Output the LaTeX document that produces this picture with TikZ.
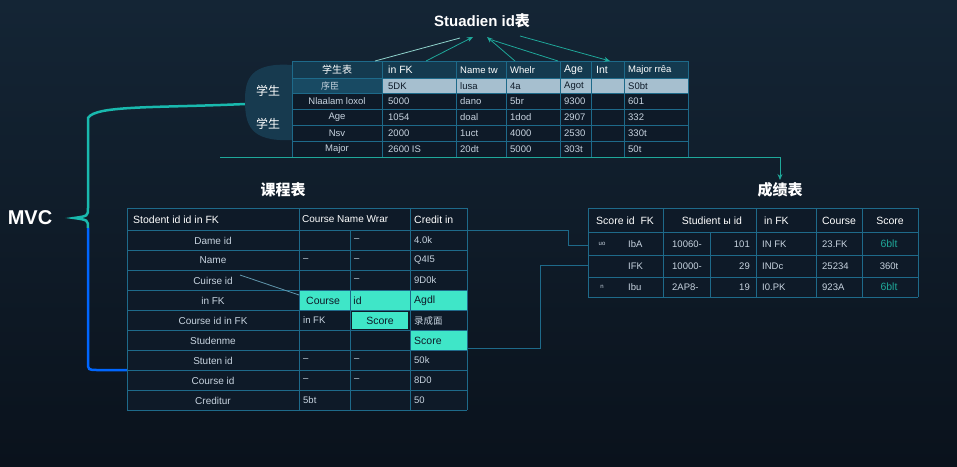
\documentclass[tikz,border=0pt]{standalone}
\usepackage{fontspec}
\setmainfont{Liberation Sans}
\newfontfamily\cjk{Noto Sans CJK SC}
\usetikzlibrary{arrows.meta}
\definecolor{bgA}{HTML}{0A121C}
\definecolor{bgB}{HTML}{142535}
\definecolor{grid}{HTML}{1E6A8A}
\definecolor{cell}{HTML}{0E1A28}
\definecolor{hl}{HTML}{3FE6C8}
\definecolor{txt}{HTML}{C8D4E0}
\definecolor{teal}{HTML}{1FA89A}
\begin{document}
\begin{tikzpicture}[x=1pt,y=-1pt,
  t/.style={text=txt,font=\fontsize{9.5}{10}\selectfont,inner sep=0pt},
  th/.style={text=white,font=\fontsize{10.5}{11}\selectfont,inner sep=0pt},
  hd/.style={text=white,font=\cjk\bfseries\fontsize{15}{17}\selectfont},
  gl/.style={draw=grid,line width=0.8pt},
  conn/.style={draw=teal,line width=0.8pt},
  arr/.style={conn,-{Stealth[length=6pt,width=5pt]}}]
\shade[top color=bgB,bottom color=bgA] (0,0) rectangle (957,466);
\useasboundingbox (0,0) rectangle (957,466);
% ---------- MVC bracket
\node[text=white,font=\bfseries\fontsize{20}{22}\selectfont] (mvc) at (30,218) {MVC};
\draw[line width=2.5pt,draw=teal!80!cyan] (245,104) .. controls (160,108) and (95,105) .. (88,118) -- (88,208) .. controls (88,216) .. (74,218) .. controls (88,220) .. (88,228);
\draw[line width=2.5pt,draw=blue!60!cyan] (88,228) -- (88,362) .. controls (88,370) .. (98,370) -- (128,370);
% ---------- Top table
\fill[bgB!70!grid] (292,65) .. controls (250,62) and (245,80) .. (245,100) .. controls (245,125) and (250,142) .. (292,140) -- cycle;
\node[text=white,font=\cjk\fontsize{12}{13}\selectfont] (s1) at (268,91) {学生};
\node[text=white,font=\cjk\fontsize{12}{13}\selectfont] (s2) at (268,124) {学生};
\fill[cell] (292,61) rectangle (688,157);
\fill[cell!60!grid] (292,61) rectangle (688,78);
\fill[txt!80!grid] (382,78) rectangle (688,93);
\fill[grid!60!cell] (292,78) rectangle (382,93);
\foreach \x in {292,382,456,506,560,591,624,688} \draw[gl] (\x,61) -- (\x,157);
\foreach \y in {61,78,93,109,125,141,157} \draw[gl] (292,\y) -- (688,\y);
\node[th,font=\cjk\fontsize{10}{10}\selectfont] at (337,69.5) {学生表};
\node[th,anchor=west] at (388,70) {in FK};
\node[th,anchor=west,font=\fontsize{9.5}{10}\selectfont] at (460,70) {Name tw};
\node[th,anchor=west,font=\fontsize{9.5}{10}\selectfont] at (510,70) {Whelr};
\node[th,anchor=west] at (564,70) {Age};
\node[th,anchor=west] at (596,70) {Int};
\node[th,anchor=west,font=\fontsize{9.5}{10}\selectfont] at (628,70) {Major rrêa};
\node[t,font=\cjk\fontsize{9}{9}\selectfont] at (330,86) {序臣};
\node[t,anchor=west,text=cell] at (388,86) {5DK};
\node[t,anchor=west,text=cell] at (460,86) {lusa};
\node[t,anchor=west,text=cell] at (510,86) {4a};
\node[t,anchor=west,text=cell] at (564,86) {Agot};
\node[t,anchor=west,text=cell] at (628,86) {S0bt};
\foreach \y/\a/\b/\c/\d/\e/\f in {101.5/Nlaalam loxol/5000/dano/5br/9300/601,117.5/Age/1054/doal/1dod/2907/332,133.5/Nsv/2000/1uct/4000/2530/330t,149.5/Major/2600 IS/20dt/5000/303t/50t}{
  \node[t] at (337,\y) {\a};
  \node[t,anchor=west] at (388,\y) {\b};
  \node[t,anchor=west] at (460,\y) {\c};
  \node[t,anchor=west] at (510,\y) {\d};
  \node[t,anchor=west] at (564,\y) {\e};
  \node[t,anchor=west] at (628,\y) {\f};}
% title + arrows
\node[text=white,font=\bfseries\fontsize{15}{17}\selectfont] (ttl) at (482,21) {Stuadien id{\cjk 表}};
\coordinate (h1) at (426,61);\coordinate (h2) at (515,61);\coordinate (h3) at (610,61);
\draw[conn,draw=teal!50] (375,61) -- (460,38);
\draw[arr] (h1) -- (473,37);
\draw[arr] (h2) -- (487,37);
\draw[conn] (558,61) -- (492,40);
\draw[arr] (520,36) -- (h3);
% long line to right table
\draw[conn] (220,157) -- (780,157);
\draw[arr] (780,157) -- (780,180);
% ---------- Left table
\node[hd] (kc) at (283,190) {课程表};
\fill[cell] (127,208) rectangle (467,410);
\fill[hl] (299,290) rectangle (410,310);
\fill[hl] (410,290) rectangle (467,310);
\fill[hl] (352,312) rectangle (408,329);
\fill[hl] (410,330) rectangle (467,350);
\foreach \x in {127,299,410,467} \draw[gl] (\x,208) -- (\x,410);
\draw[gl] (350,230) -- (350,410);
\foreach \y in {208,230,250,270,290,310,330,350,370,390,410} \draw[gl] (127,\y) -- (467,\y);
\node[th,anchor=west] at (133,219.5) {Stodent id id in FK};
\node[th,anchor=west,font=\fontsize{10}{10}\selectfont] at (302,219.5) {Course Name Wrar};
\node[th,anchor=west] at (414,219.5) {Credit in};
\foreach \y/\a/\b/\c/\d in {240/Dame id//--/4.0k,260/Name/--/--/Q4I5,280/Cuirse id//--/9D0k,300/in FK///,320/Course id in FK/in FK//{\cjk 录成面},340/Studenme///,360/Stuten id/--/--/50k,380/Course id/--/--/8D0,400/Creditur/5bt//50}{
  \node[t,font=\fontsize{10}{10}\selectfont] at (213,\y+0.5) {\a};
  \node[t,anchor=west] at (303,\y+0.5) {\b};
  \node[t,anchor=west] at (354,\y+0.5) {\c};
  \node[t,anchor=west] at (414,\y+0.5) {\d};}
\node[th,text=cell,anchor=west] at (306,300.5) {Course \quad id};
\node[th,text=cell,anchor=west] at (414,300.5) {Agdl};
\node[th,text=cell] at (380,320.5) {Score};
\node[th,text=cell,anchor=west] at (414,340.5) {Score};
\draw[conn,draw=grid!70] (240,275) -- (299,295);
% ---------- Right table
\node[hd] (cj) at (780,190) {成绩表};
\fill[cell] (588,208) rectangle (918,297);
\foreach \x in {588,663,756,816,862,918} \draw[gl] (\x,208) -- (\x,297);
\draw[gl] (710,232) -- (710,297);
\foreach \y in {208,232,255,277,297} \draw[gl] (588,\y) -- (918,\y);
\node[th,anchor=west] at (596,220.5) {Score id\ \ FK};
\node[th] at (712,220.5) {Studient ы id};
\node[th,anchor=west] at (764,220.5) {in FK};
\node[th] at (839,220.5) {Course};
\node[th] at (890,220.5) {Score};
\foreach \y/\a/\b/\c/\d/\e/\f/\g in {244/uo/IbA/10060-/101/IN FK/23.FK/6blt,266//IFK/10000-/29/INDc/25234/360t,287/n/Ibu/2AP8-/19/I0.PK/923A/6blt}{
  \node[t,font=\fontsize{6}{7}\selectfont] at (602,\y) {\a};
  \node[t,anchor=west] at (628,\y) {\b};
  \node[t,anchor=west] at (672,\y) {\c};
  \node[t,anchor=east] at (750,\y) {\d};
  \node[t,anchor=west] at (762,\y) {\e};
  \node[t,anchor=west] at (822,\y) {\f};}
\node[th,text=teal] at (889,244) {6blt};
\node[t] at (889,266) {360t};
\node[th,text=teal] at (889,287) {6blt};
% connectors between tables
\coordinate (c1) at (568,230);\coordinate (c2) at (540,348);
\draw[conn,draw=grid] (467,230) -- (c1) -- (568,245) -- (588,245);
\draw[conn,draw=grid] (467,348) -- (c2) -- (540,265) -- (588,265);
\end{tikzpicture}
\end{document}
